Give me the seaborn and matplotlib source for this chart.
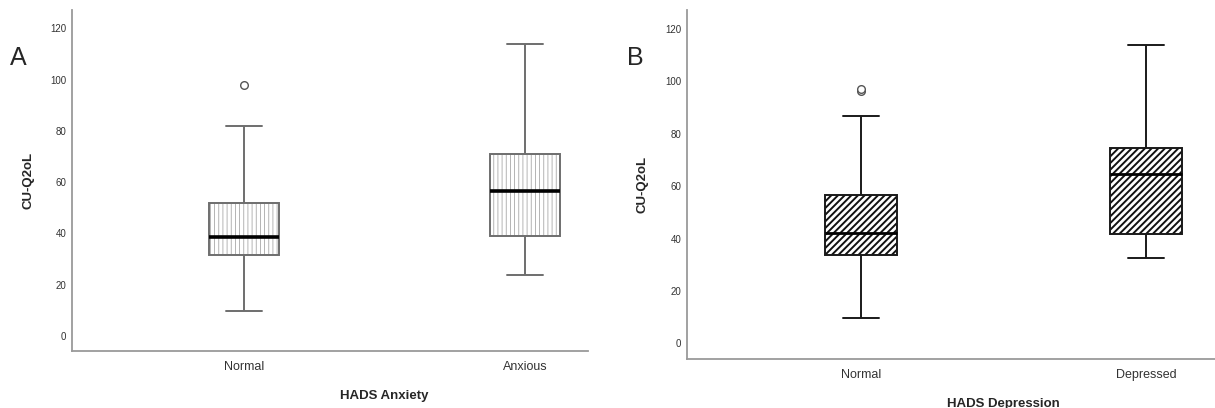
import numpy as np
import pandas as pd
import matplotlib as mpl
import matplotlib.pyplot as plt
import seaborn as sns

# five-number summaries
anx_groups = ['Normal', 'Anxious']
anx_low = [9.6, 23.7]
anx_q1 = [31.6, 39.1]
anx_median = [38.6, 56.7]
anx_q3 = [51.8, 71.1]
anx_high = [81.7, 113.8]
anx_out_group = ['Normal']
anx_out_value = [97.7]

dep_groups = ['Normal', 'Depressed']
dep_low = [9.7, 32.7]
dep_q1 = [33.6, 41.7]
dep_median = [42.3, 64.6]
dep_q3 = [56.8, 74.7]
dep_high = [86.7, 113.9]
dep_out_group = ['Normal', 'Normal']
dep_out_value = [96.3, 97.2]

y_ticks = [0, 20, 40, 60, 80, 100, 120]


def summary_frame(groups, low, q1, med, q3, high):
    rows = []
    for i, g in enumerate(groups):
        for v in (low[i], q1[i], med[i], q3[i], high[i]):
            rows.append({'group': g, 'value': v})
    return pd.DataFrame(rows)


sns.set_style('white')
plt.rcParams['font.family'] = ['Liberation Sans', 'DejaVu Sans']

fig = plt.figure(figsize=(12.15, 4.08), dpi=100)
ax_a = fig.add_axes([72 / 1215, 57 / 408, 516 / 1215, 341 / 408])
ax_b = fig.add_axes([687 / 1215, 49 / 408, 528 / 1215, 349 / 408])

panels = [
    (ax_a, anx_groups, summary_frame(anx_groups, anx_low, anx_q1, anx_median, anx_q3, anx_high),
     anx_out_group, anx_out_value, 'HADS Anxiety', '||||', '#a8a8a8', 0.6, '#6e6e6e', 2.6,
     (-0.612, 1.224), (-5.85, 127.1)),
    (ax_b, dep_groups, summary_frame(dep_groups, dep_low, dep_q1, dep_median, dep_q3, dep_high),
     dep_out_group, dep_out_value, 'HADS Depression', '/////', '#111111', 1.4, '#1a1a1a', 2.0,
     (-0.61, 1.242), (-6.0, 127.3)),
]

for ax, groups, df, og, ov, xlab, hatch, hc, hlw, lc, mlw, xl, yl in panels:
    sns.boxplot(data=df, x='group', y='value', order=groups, width=0.25, whis=np.inf,
                color='white', linecolor=lc, linewidth=1.4, showfliers=False,
                medianprops={'color': 'black', 'linewidth': mlw}, ax=ax)
    for p in ax.patches:
        p.set_hatch(hatch)
        p._hatch_color = mpl.colors.to_rgba(hc)
        try:
            p.set_hatch_linewidth(hlw)
        except AttributeError:
            p._hatch_linewidth = hlw
    sns.stripplot(x=og, y=ov, order=groups, jitter=False, color='white',
                  edgecolor='#555555', linewidth=1.0, size=5.5, ax=ax)

    ax.set_xlim(*xl)
    ax.set_ylim(*yl)
    ax.set_yticks(y_ticks)
    ax.tick_params(axis='y', labelsize=7, colors='#333333', length=0, pad=4)
    ax.tick_params(axis='x', labelsize=9, colors='#333333', length=0, pad=7)
    for s in ['top', 'right']:
        ax.spines[s].set_visible(False)
    for s in ['left', 'bottom']:
        ax.spines[s].set_color('#9a9a9a')
        ax.spines[s].set_linewidth(1.3)

    ax.set_ylabel('CU-Q2oL', fontsize=9.5, fontweight='bold')
    ax.yaxis.set_label_coords(-0.072, 0.5)
    ax.set_xlabel(xlab, fontsize=9.5, fontweight='bold')
    ax.xaxis.set_label_coords((0.5 - xl[0]) / (xl[1] - xl[0]), -0.113)

fig.text(10 / 1215, 1 - 58 / 408, 'A', fontsize=18, va='center', ha='left')
fig.text(627 / 1215, 1 - 58 / 408, 'B', fontsize=18, va='center', ha='left')

fig.savefig('out.png', dpi=100)
